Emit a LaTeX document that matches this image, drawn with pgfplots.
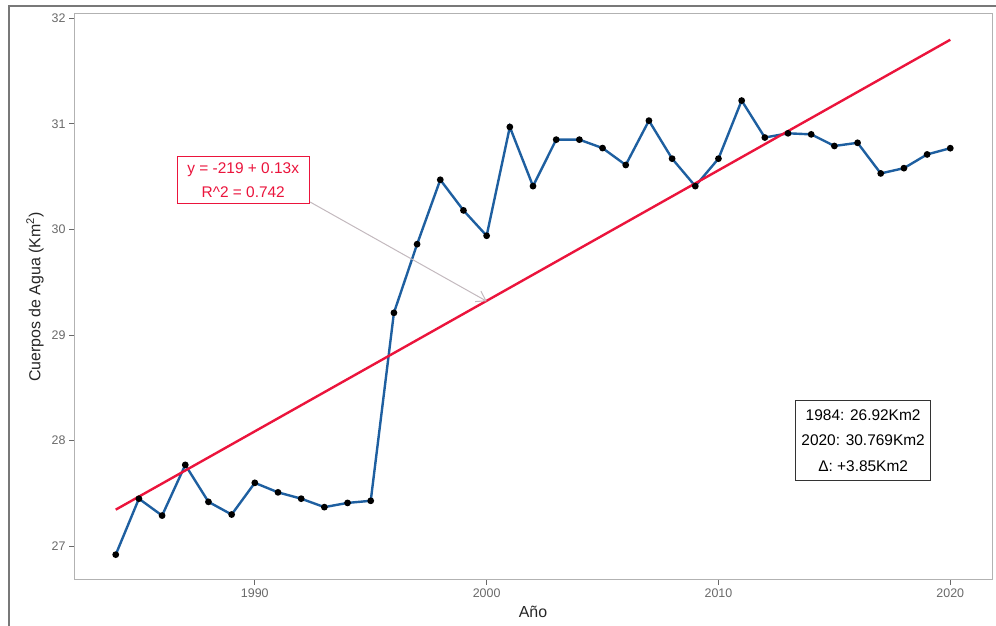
\documentclass[border=0pt]{standalone}
\usepackage{fontspec}
\setmainfont{Liberation Sans}
\usepackage{pgfplots}
\pgfplotsset{compat=1.18}
\usetikzlibrary{arrows.meta}
\definecolor{blueline}{RGB}{30,95,160}
\definecolor{regred}{RGB}{235,20,60}
\definecolor{tickgray}{RGB}{105,105,105}
\definecolor{framegray}{RGB}{120,120,120}
\definecolor{arrowgray}{RGB}{195,185,190}
\begin{document}
\begin{tikzpicture}[x=1bp,y=1bp]
\path[use as bounding box] (0,0) rectangle (996,626);
\draw[framegray, line width=2bp] (9,0) -- (9,620) -- (996,620);
\begin{axis}[
 at={(74bp,46bp)}, anchor=south west,
 scale only axis, width=918bp, height=566bp,
 xmin=1982.2, xmax=2021.8, ymin=26.68, ymax=32.04,
 xtick={1990,2000,2010,2020}, xticklabels={1990,2000,2010,2020},
 ytick={27,28,29,30,31,32},
 xtick pos=bottom, ytick pos=left,
 tick align=outside, major tick length=5bp,
 tick style={tickgray, line width=0.8bp},
 axis line style={draw=gray!60, line width=1bp},
 /pgf/number format/assume math mode=true,
 ticklabel style={font=\fontsize{12.5}{14}\selectfont, text=tickgray},
 xlabel={Año}, ylabel={Cuerpos de Agua (Km\textsuperscript{2})},
 label style={font=\fontsize{16}{18}\selectfont, text=black!85},
 xlabel style={at={(axis description cs:0.5,-0.0565)}, anchor=center},
 ylabel style={at={(axis description cs:-0.0425,0.5)}, anchor=center},
 clip=false,
]
\addplot[blueline, line width=2.4bp, mark=*, mark size=2.1bp,
 mark options={draw=black, fill=black}] coordinates {
(1984,26.92) (1985,27.45) (1986,27.29) (1987,27.77) (1988,27.42) (1989,27.30)
(1990,27.60) (1991,27.51) (1992,27.45) (1993,27.37) (1994,27.41) (1995,27.43)
(1996,29.21) (1997,29.86) (1998,30.47) (1999,30.18) (2000,29.94) (2001,30.97)
(2002,30.41) (2003,30.85) (2004,30.85) (2005,30.77) (2006,30.61) (2007,31.03)
(2008,30.67) (2009,30.41) (2010,30.67) (2011,31.22) (2012,30.87) (2013,30.91)
(2014,30.90) (2015,30.79) (2016,30.82) (2017,30.53) (2018,30.58) (2019,30.71)
(2020,30.769)};
\addplot[regred, line width=2.4bp, no marks] coordinates {(1984,27.346) (2020,31.796)};
\draw[arrowgray, line width=1bp, -{Straight Barb[length=9bp,width=12bp]}]
 (axis cs:1992.38,30.26) -- (axis cs:2000,29.32);
\node[draw=regred, line width=1bp, fill=white, text=regred, align=center,
 inner xsep=10bp, inner ysep=6bp, font=\fontsize{15.5}{24}\selectfont]
 at (axis cs:1989.5,30.466) {y = -219 + 0.13x\\R\textasciicircum 2 = 0.742};
\node[draw=black!80, line width=1bp, fill=white, text=black, align=center,
 inner xsep=6bp, inner ysep=9bp, font=\fontsize{15.5}{26}\selectfont]
 at (axis cs:2016.24,28.0) {1984: 26.92Km2\\2020: 30.769Km2\\Δ: +3.85Km2};
\end{axis}
\end{tikzpicture}
\end{document}
